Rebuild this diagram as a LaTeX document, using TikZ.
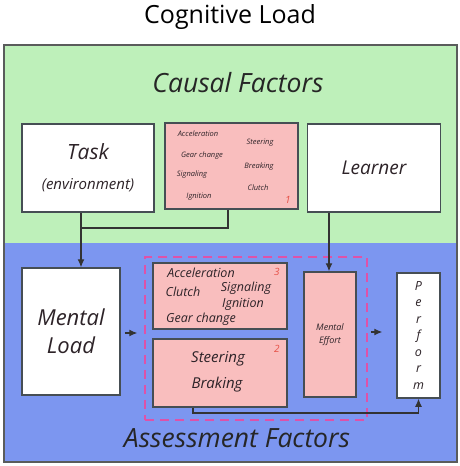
\documentclass[tikz,border=0pt]{standalone}
\usepackage{fontspec}
\setmainfont{Open Sans}
\usetikzlibrary{arrows.meta,positioning,calc}
\definecolor{CausalGreen}{RGB}{190,240,186}
\definecolor{AssessBlue}{RGB}{124,150,240}
\definecolor{FactorPink}{RGB}{249,190,190}
\definecolor{BoxEdge}{RGB}{70,78,84}
\definecolor{PaneEdge}{RGB}{90,92,92}
\definecolor{GroupDash}{RGB}{222,82,168}
\definecolor{WordInk}{RGB}{45,35,40}
\definecolor{TagRed}{RGB}{230,80,70}

\begin{document}
\begin{tikzpicture}[
  x=1pt, y=-1pt,
  box/.style={
    rectangle,
    draw=BoxEdge,
    line width=1.5pt,
    inner sep=0pt,
    align=center,
    text=WordInk
  },
  plain/.style={box, fill=white},
  factor/.style={box, fill=FactorPink},
  heading/.style={font=\itshape\fontsize{26.5}{30}\selectfont, text=black!85},
  word/.style={font=\itshape\fontsize{#1}{#1}\selectfont, text=WordInk, inner sep=0pt},
  word/.default=9,
  tag/.style={font=\itshape\fontsize{10}{10}\selectfont, text=TagRed, inner sep=0pt},
  arrow/.style={-{Latex[length=8pt,width=7pt]}, line width=1.1pt, draw=black!80},
  link/.style={line width=1.1pt, draw=black!80}
]
\useasboundingbox (0,0) rectangle (460,466);

% panes
\fill[CausalGreen] (4,45) rectangle (457,243);
\fill[AssessBlue] (4,243) rectangle (457,462);
\draw[PaneEdge, line width=2pt] (4,45) rectangle (457,462);

\node[font=\fontsize{25}{28}\selectfont] (title) at (230,17) {Cognitive Load};
\node[heading] (causal) at (238,83) {Causal Factors};
\node[heading] (assess) at (237,438) {Assessment Factors};

% causal factors
\node[plain, minimum width=132pt, minimum height=88pt,
  font=\itshape\fontsize{15}{30}\selectfont] (task) at (88,168)
  {{\fontsize{21}{26}\selectfont Task}\\(environment)};
\node[factor, minimum width=133pt, minimum height=86pt] (drivers) at (231.5,166) {};
\node[plain, minimum width=133pt, minimum height=88pt,
  font=\itshape\fontsize{19}{22}\selectfont] (learner) at (374,168) {Learner};

\foreach \txt/\px/\py [count=\i] in {Acceleration/198/134, Steering/260/143,
    Gear change/202/156, Breaking/259/167, Signaling/192/175,
    Clutch/258/188, Ignition/199/197}
  \node[word=7.5] (dw\i) at (\px,\py) {\txt};
\node[tag] (tag1) at (288,200) {1};

% assessment factors
\node[plain, minimum width=98pt, minimum height=127pt,
  font=\itshape\fontsize{22}{28}\selectfont] (mload) at (71,331.5) {Mental\\Load};
\node[rectangle, draw=GroupDash, line width=1.5pt, dash pattern=on 9pt off 6pt,
  minimum width=222pt, minimum height=163pt] (group) at (256,338.5) {};
\node[factor, minimum width=134pt, minimum height=66pt] (habits) at (220,296) {};
\node[factor, minimum width=134pt, minimum height=68pt] (control) at (220,373) {};
\node[factor, minimum width=52pt, minimum height=125pt,
  font=\itshape\fontsize{9}{13}\selectfont] (effort) at (330,334.5) {Mental\\Effort};
\node[plain, minimum width=43pt, minimum height=125pt,
  font=\itshape\fontsize{12.5}{16.5}\selectfont] (perform) at (418.5,335.5)
  {P\\e\\r\\f\\o\\r\\m};

\foreach \txt/\px/\py [count=\i] in {Acceleration/201/273, Clutch/183/292,
    Signaling/246/288, Ignition/243/304, Gear change/201/319}
  \node[word=12.5] (hw\i) at (\px,\py) {\txt};
\node[tag] (tag3) at (277,272) {3};
\node[word=15] (cw1) at (218,359) {Steering};
\node[word=15] (cw2) at (217,385) {Braking};
\node[tag] (tag2) at (277,349) {2};

% connectors
\coordinate (drop) at (81,228);
\coordinate (bend) at (193,413);
\draw[link] (drivers.south -| 228,0) |- (drop);
\draw[arrow] (task.south -| drop) -- (mload.north -| drop);
\draw[arrow] (learner.south -| 329,0) -- (effort.north -| 329,0);
\draw[arrow, shorten <=4pt, shorten >=7pt] (mload.east |- 0,333) -- (group.west |- 0,333);
\draw[arrow, shorten <=3pt, shorten >=14pt] (group.east |- 0,332) -- (perform.west |- 0,332);
\draw[arrow] (control.south -| bend) |- (perform.south |- bend) -- (perform.south);
\end{tikzpicture}
\end{document}
